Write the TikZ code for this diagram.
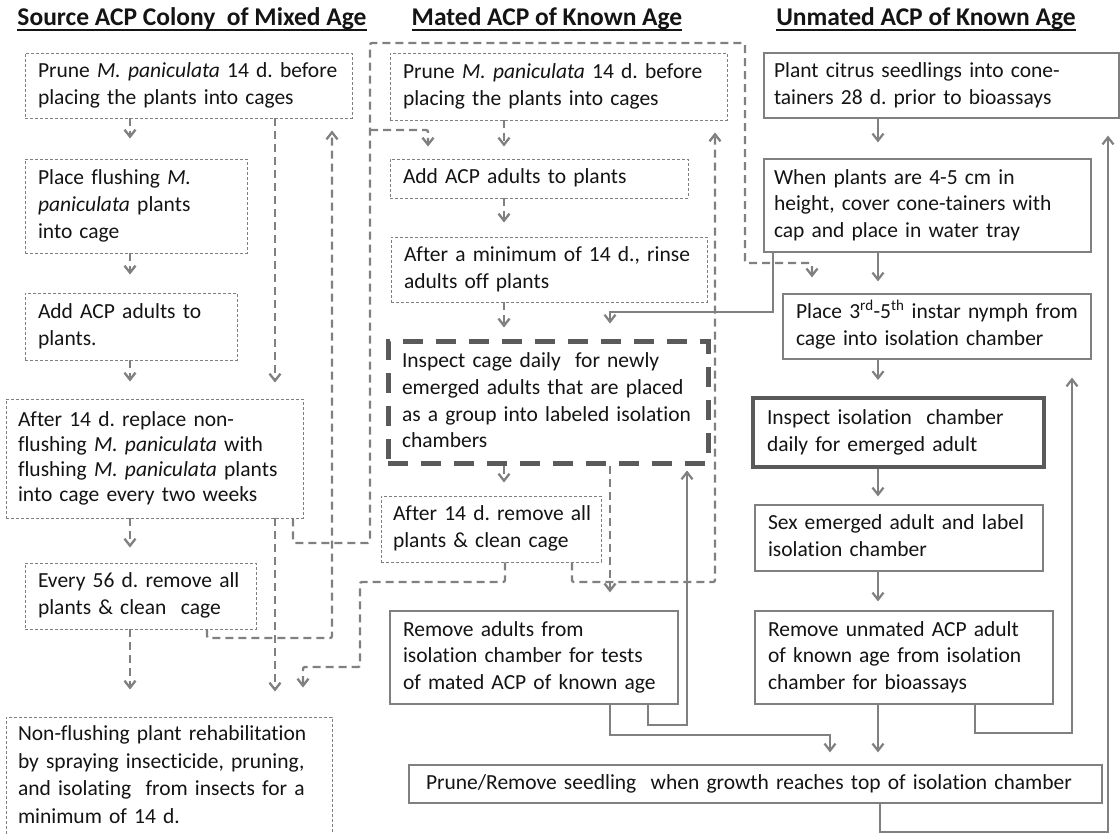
\documentclass[tikz,border=0pt]{standalone}
\usepackage{fontspec}
\setmainfont{Carlito}[Ligatures={NoCommon}]
\usetikzlibrary{arrows.meta}
\definecolor{txt}{HTML}{141414}
\definecolor{ln}{HTML}{808080}
\definecolor{dk}{HTML}{5A5A5A}
\newsavebox{\hulbox}
\newcommand{\hul}[1]{\sbox{\hulbox}{#1}\rlap{\rule[-4.8pt]{\wd\hulbox}{1.8pt}}\usebox{\hulbox}}
\newcommand{\flowbox}[8]{%
  \pgfmathsetmacro{\fbw}{#5-#3}%
  \pgfmathsetmacro{\fbh}{#6-#4}%
  \pgfmathsetmacro{\fbt}{#5-#3-2*#7}%
  \pgfmathsetmacro{\fbcx}{(#3+#5)/2}%
  \pgfmathsetmacro{\fbcy}{(#4+#6)/2}%
  \node[#2, minimum width=\fbw pt, minimum height=\fbh pt, text width=\fbt pt, inner xsep=#7pt, inner ysep=0pt] (#1) at (\fbcx,\fbcy) {\begin{tabular}{@{}l@{}}#8\end{tabular}};%
}
\begin{document}
\frenchspacing
\begin{tikzpicture}[x=1pt,y=-1pt,
  box/.style={draw=ln, line width=1.2pt, text=txt, font=\fontsize{21.5}{26.7}\selectfont, align=left, anchor=center},
  dbox/.style={box, dash pattern=on 3pt off 2pt, line width=0.9pt},
  thickbox/.style={box, draw=dk, line width=4pt},
  tdbox/.style={box, draw=dk, line width=5pt, dash pattern=on 20pt off 13pt},
  dconn/.style={draw=ln, line width=2.3pt, dash pattern=on 8pt off 5pt, rounded corners=2pt},
  sconn/.style={draw=ln, line width=2.2pt},
  tip/.style={-{Straight Barb[length=7pt,width=11pt]}},
  hdr/.style={text=txt, font=\fontsize{25.5}{30}\selectfont\bfseries, inner sep=0pt, anchor=base}]
\fill[white] (0,0) rectangle (1120,834);
\useasboundingbox (0,0) rectangle (1120,834);

% headers
\node[hdr] (h1) at (192,26) {\hul{Source ACP Colony\ \ of Mixed Age}};
\node[hdr] (h2) at (547,26) {\hul{Mated ACP of Known Age}};
\node[hdr] (h3) at (926,26) {\hul{Unmated ACP of Known Age}};

% column 1
\flowbox{c1b1}{dbox}{25}{53}{352}{118}{13}{Prune \textit{M. paniculata} 14 d. before\\placing the plants into cages}
\flowbox{c1b2}{dbox}{25}{159}{247}{253}{13}{Place flushing \textit{M.}\\\textit{paniculata} plants\\into cage}
\flowbox{c1b3}{dbox}{25}{293}{237}{360}{13}{Add ACP adults to\\plants.}
\flowbox{c1b4}{dbox, font=\fontsize{21.5}{25}\selectfont}{6}{399}{303}{518}{12}{After 14 d. replace non-\\flushing \textit{M. paniculata} with\\flushing \textit{M. paniculata} plants\\into cage every two weeks}
\flowbox{c1b5}{dbox}{25}{563}{256}{629}{13}{Every 56 d. remove all\\plants \& clean\ \ cage}
\flowbox{c1b6}{dbox, font=\fontsize{21.5}{27.7}\selectfont}{6}{717}{332}{836}{12}{Non-flushing plant rehabilitation\\by spraying insecticide, pruning,\\and isolating\ \ from insects for a\\minimum of 14 d.}

% column 2
\flowbox{c2b1}{dbox}{390}{53}{727}{120}{13}{Prune \textit{M. paniculata} 14 d. before\\placing the plants into cages}
\flowbox{c2b2}{dbox}{390}{159}{688}{198}{13}{Add ACP adults to plants}
\flowbox{c2b3}{dbox}{391}{237}{707}{302}{13}{After a minimum of 14 d., rinse\\adults off plants}
\flowbox{c2b5}{tdbox}{388}{342}{708}{463}{14}{Inspect cage daily\ \ for newly\\emerged adults that are placed\\as a group into labeled isolation\\chambers}
\flowbox{c2b6}{dbox}{381}{496}{601}{562}{12}{After 14 d. remove all\\plants \& clean cage}
\flowbox{c2b7}{box}{390}{611}{678}{704}{13}{Remove adults from\\isolation chamber for tests\\of mated ACP of known age}

% column 3
\flowbox{c3b1}{box}{764}{53}{1119}{118}{10}{Plant citrus seedlings into cone-\\tainers 28 d. prior to bioassays}
\flowbox{c3b2}{box}{764}{159}{1091}{252}{10}{When plants are 4-5 cm in\\height, cover cone-tainers with\\cap and place in water tray}
\flowbox{c3b3}{box}{783}{294}{1091}{359}{13}{Place 3\textsuperscript{rd}-5\textsuperscript{th} instar nymph from\\cage into isolation chamber}
\flowbox{c3b4}{thickbox}{753}{398}{1044}{467}{14}{Inspect isolation\ \ chamber\\daily for emerged adult}
\flowbox{c3b5}{box}{755}{505}{1043}{571}{13}{Sex emerged adult and label\\isolation chamber}
\flowbox{c3b6}{box}{755}{611}{1053}{704}{13}{Remove unmated ACP adult\\of known age from isolation\\chamber for bioassays}
\flowbox{pr}{box}{409}{765}{1102}{803}{17}{Prune/Remove seedling\ \ when growth reaches top of isolation chamber}

% column 1 dashed arrows
\draw[dconn,tip,shorten >=20pt] (c1b1.south -| 130,0) -- (c1b2.north -| 130,0);
\draw[dconn,tip,shorten >=18pt] (c1b2.south -| 130,0) -- (c1b3.north -| 130,0);
\draw[dconn,tip,shorten >=17pt] (c1b3.south -| 130,0) -- (c1b4.north -| 130,0);
\draw[dconn,tip,shorten >=15pt] (c1b4.south -| 130,0) -- (c1b5.north -| 130,0);
\draw[dconn,tip,shorten >=27pt] (c1b5.south -| 130,0) -- (c1b6.north -| 130,0);
\draw[dconn,tip,shorten >=16pt] (c1b1.south -| 275,0) -- (c1b4.north -| 275,0);
\draw[dconn,tip,shorten >=25pt] (c1b4.south -| 275,0) -- (c1b6.north -| 275,0);

% long dashed feedback lines
\draw[dconn,tip,shorten >=16pt] (c1b4.south -| 293,0) -- (293,543) -- (370,543) -- (370,43) -- (745,43) -- (745,263) -- (812,263) -- (c3b3.north -| 812,0);
\draw[dconn,tip,shorten >=12pt] (c1b5.south -| 207,0) -- (207,638) -- (332,638) -- (c1b1.south -| 332,0);
\coordinate (j1) at (370,130);
\draw[dconn,tip,shorten >=12pt] (j1) -- (428,130) -- (c2b2.north -| 428,0);
\draw[dconn,tip,shorten >=29pt] (c2b6.south -| 505,0) -- (505,582) -- (360,582) -- (360,667) -- (303,667) -- (c1b6.north -| 303,0);
\draw[dconn,tip,shorten >=12pt] (c2b6.south -| 572,0) -- (572,582) -- (715,582) -- (c2b1.south -| 715,0);
\draw[dconn,tip,shorten >=18pt] (c2b5.south -| 610,0) -- (c2b7.north -| 610,0);

% column 2 dashed arrows
\draw[dconn,tip,shorten >=12pt] (c2b1.south -| 504,0) -- (c2b2.north -| 504,0);
\draw[dconn,tip,shorten >=14pt] (c2b2.south -| 504,0) -- (c2b3.north -| 504,0);
\draw[dconn,tip,shorten >=12pt] (c2b3.south -| 504,0) -- (c2b5.north -| 504,0);
\draw[dconn,tip,shorten >=13pt] (c2b5.south -| 504,0) -- (c2b6.north -| 504,0);

% column 3 solid arrows
\draw[sconn,tip,shorten >=16pt] (c3b1.south -| 878,0) -- (c3b2.north -| 878,0);
\draw[sconn,tip,shorten >=12pt] (c3b2.south -| 878,0) -- (c3b3.north -| 878,0);
\draw[sconn,tip,shorten >=16pt] (c3b3.south -| 878,0) -- (c3b4.north -| 878,0);
\draw[sconn,tip,shorten >=8pt] (c3b4.south -| 878,0) -- (c3b5.north -| 878,0);
\draw[sconn,tip,shorten >=9pt] (c3b5.south -| 878,0) -- (c3b6.north -| 878,0);
\draw[sconn,tip,shorten >=12pt] (c3b6.south -| 878,0) -- (pr.north -| 878,0);

% solid cross connectors
\draw[sconn,tip,shorten >=16pt] (c3b2.south -| 773,0) -- (773,312) -- (610,312) -- (c2b5.north -| 610,0);
\draw[sconn,tip,shorten >=5pt] (c2b7.south -| 648,0) -- (648,725) -- (687,725) -- (c2b5.south -| 687,0);
\draw[sconn,tip,shorten >=12pt] (c2b7.south -| 610,0) -- (610,735) -- (830,735) -- (pr.north -| 830,0);
\draw[sconn,tip,shorten >=18pt] (c3b6.south -| 975,0) -- (975,733) -- (1072,733) -- (c3b3.south -| 1072,0);
\draw[sconn,tip,shorten >=17pt] (pr.south -| 880,0) -- (880,832) -- (1108,832) -- (c3b1.south -| 1108,0);
\end{tikzpicture}
\end{document}
